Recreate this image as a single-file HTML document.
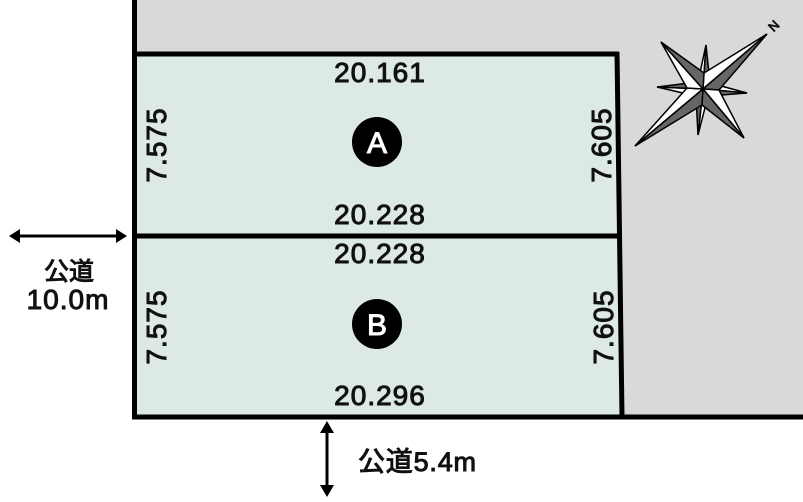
<!DOCTYPE html>
<html><head><meta charset="utf-8"><style>
html,body{margin:0;padding:0;background:#fff;}
svg{display:block;}
text{font-family:"Liberation Sans","Noto Sans CJK JP",sans-serif;font-weight:normal;fill:#111;stroke:#111;stroke-width:1;}
</style></head><body>
<svg width="803" height="502" viewBox="0 0 803 502" xmlns="http://www.w3.org/2000/svg">
<rect x="134" y="0" width="669" height="417" fill="#d9d9d9"/>
<polygon points="134,54 617,54 622,417 134,417" fill="#dce9e6"/>
<g stroke="#000" stroke-width="5" fill="none">
<line x1="134.5" y1="0" x2="134.5" y2="419"/>
<line x1="132" y1="54" x2="619" y2="54"/>
<line x1="617" y1="52" x2="622" y2="417"/>
<line x1="132" y1="236" x2="620" y2="236"/>
<line x1="132" y1="417" x2="803" y2="417"/>
</g>
<g font-size="28" text-anchor="middle" letter-spacing="1">
<text x="380" y="82">20.161</text>
<text x="380" y="224">20.228</text>
<text x="380" y="263">20.228</text>
<text x="380" y="405">20.296</text>
<text transform="translate(166,145) rotate(-90)">7.575</text>
<text transform="translate(166,327) rotate(-90)">7.575</text>
<text transform="translate(611,145) rotate(-90)">7.605</text>
<text transform="translate(613,327) rotate(-90)">7.605</text>
</g>
<circle cx="377" cy="142" r="25" fill="#000"/>
<text x="377" y="153" font-size="30" text-anchor="middle" style="fill:#fff;stroke:#fff">A</text>
<circle cx="377" cy="324" r="25" fill="#000"/>
<text x="377" y="335" font-size="30" text-anchor="middle" style="fill:#fff;stroke:#fff">B</text>
<line x1="16" y1="236" x2="120" y2="236" stroke="#000" stroke-width="3"/>
<polygon points="9,236 20,229 20,243" fill="#000"/>
<polygon points="127,236 116,229 116,243" fill="#000"/>
<text x="69" y="280" font-size="25" text-anchor="middle">公道</text>
<text x="68" y="309" font-size="28" text-anchor="middle" letter-spacing="1">10.0m</text>
<line x1="327" y1="428" x2="327" y2="490" stroke="#000" stroke-width="3"/>
<polygon points="327,421 320,433 334,433" fill="#000"/>
<polygon points="327,497 320,485 334,485" fill="#000"/>
<text x="358" y="471" font-size="27" letter-spacing="0.8">公道5.4m</text>
<g stroke="#000" stroke-width="1.5" stroke-linejoin="miter">
<polygon points="703,89 706,45 698,82" fill="#fff"/>
<polygon points="703,89 706,45 710,83" fill="#666"/>
<polygon points="703,89 698,135 708,96" fill="#fff"/>
<polygon points="703,89 698,135 696,96" fill="#666"/>
<polygon points="703,89 657,87 696,96" fill="#fff"/>
<polygon points="703,89 657,87 697,82" fill="#666"/>
<polygon points="703,89 747,93 710,83" fill="#fff"/>
<polygon points="703,89 747,93 709,96" fill="#666"/>
<polygon points="703,89 767,34 704,73" fill="#fff"/>
<polygon points="703,89 767,34 719,90" fill="#666"/>
<polygon points="703,89 635,146 687,88" fill="#fff"/>
<polygon points="703,89 635,146 702,105" fill="#666"/>
<polygon points="703,89 661,42 687,88" fill="#fff"/>
<polygon points="703,89 661,42 704,73" fill="#666"/>
<polygon points="703,89 744,138 719,90" fill="#fff"/>
<polygon points="703,89 744,138 702,105" fill="#666"/>
</g>
<text transform="translate(777,29) rotate(-45)" font-size="13" text-anchor="middle" style="stroke-width:0.8">N</text>
</svg>
</body></html>
